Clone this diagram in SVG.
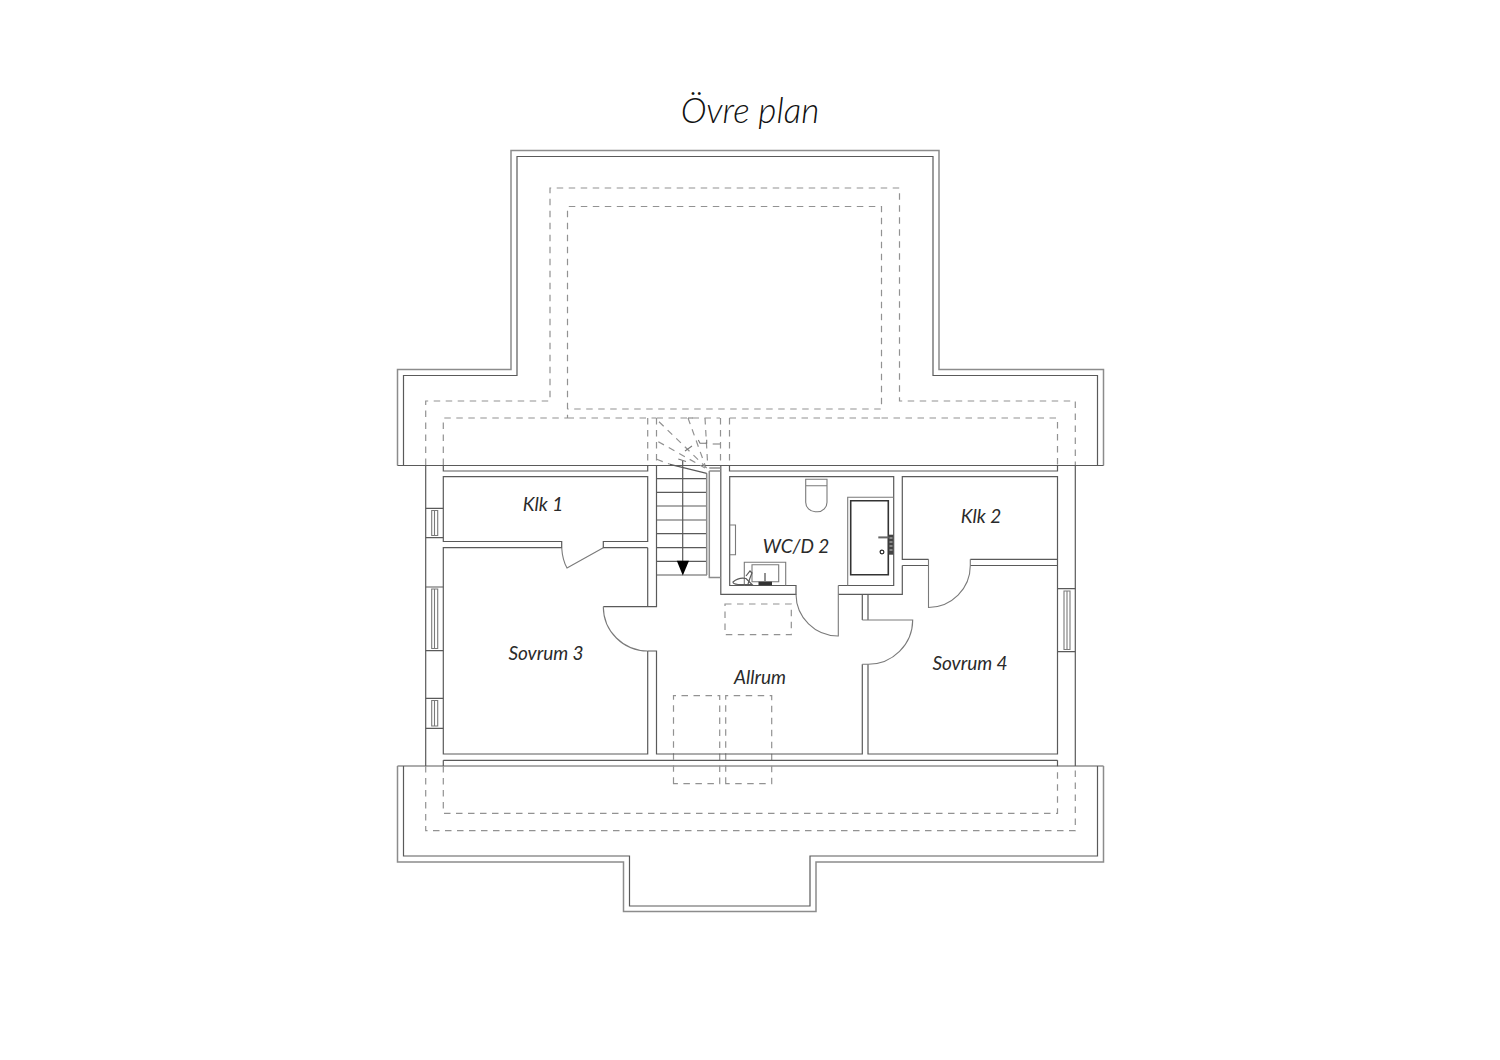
<svg xmlns="http://www.w3.org/2000/svg" width="1500" height="1060" viewBox="0 0 1500 1060">
<style>
.w{fill:none;stroke:#5a5a5a;stroke-width:1.2}
.o{fill:none;stroke:#8c8c8c;stroke-width:1.5}
.d{fill:none;stroke:#929292;stroke-width:1.2;stroke-dasharray:6.5 5.5}
.f{fill:none;stroke:#7a7a7a;stroke-width:1.1}
.t{font-family:"Lato","Open Sans",sans-serif;font-style:italic;font-weight:400;fill:#2a2a2a;font-size:19px;text-anchor:middle}
.h{font-size:35px;font-weight:300;fill:#111}
</style>
<rect width="1500" height="1060" fill="#fff"/>
<text class="t h" x="750" y="123">Övre plan</text>
<g id="roof">
<path class="o" d="M397.5 465.5V369.5H511V150.5H939V369.5H1103.5V465.5"/>
<path class="w" d="M403.5 465.5V375.5H517V156.5H933V375.5H1097.5V465.5"/>
<path class="w" d="M397.5 465.5H1103.5M397.5 766H1103.5"/>
<path class="o" d="M397.5 766V862H623.5V911.5H816V862H1103.5V766"/>
<path class="w" d="M403.5 766V856H629.5V906H810V856H1097.5V766"/>
</g>
<g id="roof-dashed">
<path class="d" d="M425.7 465V401H550V188H899.5V401H1075.3V465"/>
<path class="d" d="M443.3 465V418H567.5V206.5H881.5V409H567.5M881.5 418H1057.5V465M567.5 418H656M656.5 418H720M729.5 418H881.5"/>
<path class="d" d="M647.7 418V465M656.5 418V465M720.5 418V465M729.5 418V465"/>
<path class="d" d="M425.7 766V830.7H1075.3V766M443.3 766V813.3H1057.5V766"/>
<path class="d" d="M725 604H791.3V634.7H725Z"/>
<path class="d" d="M673.5 783.7V695.7H719.7V783.7ZM725.7 783.7V695.7H771.7V783.7Z"/>
</g>
<g id="walls">
<path class="w" d="M425.7 465.5V766M1075.3 465.5V766"/>
<path class="w" d="M443.3 465.5V471H647.7V465.5M729.5 465.5V471H1057.5V465.5"/>
<path class="w" d="M443.3 760.3V766M1057.5 760.3V766M443.3 760.3H1057.5"/>
<path class="w" d="M656.5 465.5V606.7H603.3M647.7 547.7V606.7M647.7 651V754H443.3V547.7H561.7V541.5H443.3V476.7H647.7V541.5H603.3V547.7H647.7"/>
<path class="w" d="M647.7 651H656.5V754H862.3V664.3M862.3 620V594.3M868 594.3V620M868 664.3V754H1057.5V476.7H902.3V559.3H928.5M970.3 559.3H1057.5M970.3 565.5H1057.5M902.3 565.5H928.5"/>
<path class="w" d="M720.8 465.5V594.3H796V585.5H729.7V476.7H893.7V585.5H838.3"/>
<path class="w" d="M838.3 594.3H902.3V565.5"/>
<path class="f" d="M847.7 585.5V497.3H893.7"/>
</g>
<g id="doors">
<path class="f" d="M561.7 547.7Q562.5 560 567 568L603.3 547.7"/>
<path class="f" d="M603.3 606.7A44.5 44.5 0 0 0 647.7 651"/>
<path class="f" d="M796 594.3A42 42 0 0 0 838.3 636V585.5"/>
<path class="f" d="M862.3 620H912.7A44.5 44.5 0 0 1 868 664.3H862.3"/>
<path class="f" d="M928.5 559.3V607.5A42 42 0 0 0 970.3 565.5V559.3"/>
</g>
<g id="windows">
<path class="w" d="M425.7 508.3H443.3M425.7 537.7H443.3M425.7 587H443.3M425.7 650.7H443.3M425.7 698.3H443.3M425.7 728.3H443.3M1057.5 588.7H1075.3M1057.5 651.7H1075.3"/>
<path class="f" d="M431.7 510.5H437.7V535.5H431.7ZM434.5 510.5V535.5M431.7 589H437.7V648.5H431.7ZM434.5 589V648.5M431.7 700.5H437.7V726H431.7ZM434.5 700.5V726M1064 591H1070V649.5H1064ZM1067 591V649.5"/>
</g>
<g id="stairs">
<path class="w" d="M656.5 478.7H707M656.5 492.3H707M656.5 506H707M656.5 520H707M656.5 533.7H707M656.5 547.7H707M656.5 561.3H707M656.5 575H707"/>
<path class="o" d="M706.7 473.3V575M709.3 471V577.5H720.5M709.3 468H720.5M709.3 471H720.5"/>
<path class="w" d="M670 464.3L706.7 473.3M682.7 461V562"/>
<path d="M676.8 560.7H689L682.8 575.5Z" fill="#000"/>
<path class="d" d="M659 421.7L706.7 468M658.3 441.7L705 468M656.7 459.3L670 464.3M688 418L705 465M705 418L707.7 465"/>
<path class="f" d="M693 418H688M698.3 440L700 443.3H706.7V439.7M712.7 444H720M685 451L692 446M678.3 459L686 461.5"/>
</g>
<g id="fixtures">
<path class="f" d="M805.7 479.3H827V485.7H805.7ZM805.7 485.7V502A9.5 9.5 0 0 0 815.5 511.7H817.5A9.5 9.5 0 0 0 827 502V485.7"/>
<path d="M850.7 500.7H888.3V574.7H850.7Z" fill="none" stroke="#333" stroke-width="1.6"/>
<circle cx="882" cy="552" r="1.9" fill="none" stroke="#222" stroke-width="1.2"/>
<path d="M878.3 537.4H889" stroke="#666" stroke-width="2" fill="none"/>
<rect x="888.6" y="534.7" width="4.8" height="20" fill="#444"/>
<path d="M889.5 538H892.5M889.5 542H892.5M889.5 546H892.5M889.5 550H892.5" stroke="#ccc" stroke-width="1" fill="none"/>
<path class="f" d="M730 525H735.5V554.7H730"/>
<path class="f" d="M744.3 585.5V562.3H785.7V585.5M752 581.7V564.7H778.7V581.7Z"/>
<path d="M765 573V581" stroke="#777" stroke-width="1.6" fill="none"/>
<rect x="758.5" y="581.7" width="13.5" height="3.6" fill="#333"/>
<path class="w" d="M733 582Q739 577 746 578.5L752 584.5H738Q733 584 733 582Z"/>
<path class="w" d="M746 576L750 571L752 573L750 578L748 584"/>
</g>
<g id="labels">
<text class="t" x="543" y="511">Klk 1</text>
<text class="t" x="796" y="553">WC/D 2</text>
<text class="t" x="981" y="523">Klk 2</text>
<text class="t" x="546" y="660">Sovrum 3</text>
<text class="t" x="970" y="670">Sovrum 4</text>
<text class="t" x="760" y="684">Allrum</text>
</g>
</svg>
